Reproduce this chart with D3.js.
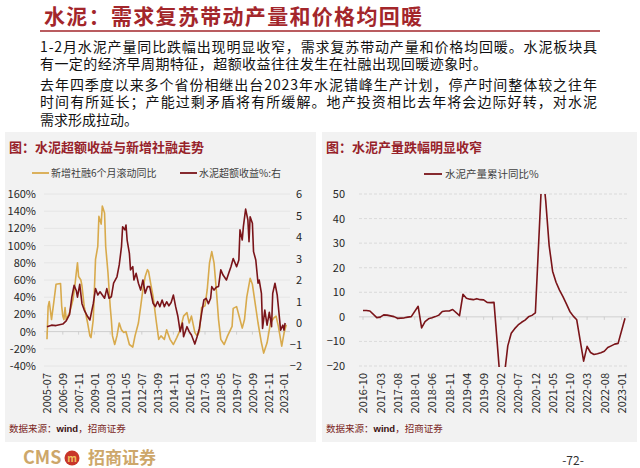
<!DOCTYPE html>
<html>
<head>
<meta charset="utf-8">
<script src="https://cdn.jsdelivr.net/npm/d3@7"></script>
<style>
  body { margin: 0; background: #fff; }
  svg { display: block; }
  text { font-family: "Noto Sans CJK SC", "Noto Sans", sans-serif; }
</style>
</head>
<body>
<script>
// 新增社融6个月滚动同比 (%), left axis
var sfDates = ['2005-07','2005-08','2005-09','2005-11','2006-01','2006-03','2006-07','2006-08','2006-09','2006-10','2006-11','2006-12',
  '2007-03','2007-06','2007-08','2007-09','2007-10','2007-11','2008-01','2008-02','2008-04','2008-07','2008-09','2008-10','2008-12',
  '2009-01','2009-02','2009-04','2009-05','2009-07','2009-08','2009-10','2009-11','2010-01','2010-03','2010-04','2010-05','2010-07','2010-09','2010-11',
  '2011-01','2011-03','2011-05','2011-08','2011-11','2012-01','2012-04','2012-06','2012-08','2012-10','2012-12',
  '2013-01','2013-03','2013-05','2013-08','2013-10','2013-12','2014-03','2014-05','2014-08','2014-11',
  '2015-02','2015-05','2015-08','2015-11','2016-01','2016-03','2016-06','2016-08','2016-10','2016-12',
  '2017-03','2017-05','2017-07','2017-09','2017-11','2018-01','2018-03','2018-05','2018-08','2018-11',
  '2019-03','2019-04','2019-07','2019-10','2019-12','2020-02','2020-04','2020-07','2020-09','2020-11',
  '2021-02','2021-05','2021-07','2021-10','2022-01','2022-04','2022-06','2022-08','2022-11','2023-01','2023-03'];
var sfValues = [-9,29,35,14,34,55,56,30,18,14,28,14,
  22,37,57,69,80,64,60,53,29,10,-5,-7,14,
  49,84,99,134,125,146,138,99,69,29,14,-5,-15,-5,10,
  2,-1,0,-15,-18,-5,10,29,49,64,72,
  70,55,41,10,-9,-5,-9,2,-9,-15,
  -7,2,18,22,10,18,-1,-5,0,28,
  30,49,80,93,80,49,14,-9,-15,-5,
  6,27,29,14,4,14,40,62,55,37,
  10,-13,-25,-13,10,16,18,6,-17,-2,8];

// 水泥超额收益 (right axis)
var exDates = ['2005-07','2005-11','2006-03','2006-06','2006-09','2006-12',
  '2007-03','2007-05','2007-07','2007-09','2007-10','2007-12','2008-02','2008-04','2008-07','2008-09','2008-12',
  '2009-02','2009-04','2009-06','2009-08','2009-10','2009-12','2010-02','2010-04','2010-06','2010-09','2010-11',
  '2011-01','2011-02','2011-04','2011-05','2011-06','2011-08','2011-09','2011-11','2011-12','2012-02','2012-04','2012-06','2012-08','2012-10','2012-12',
  '2013-02','2013-05','2013-07','2013-09','2013-11','2014-01','2014-03','2014-05','2014-07','2014-09','2014-11',
  '2015-01','2015-03','2015-05','2015-07','2015-08','2015-11','2016-01','2016-03','2016-06','2016-08','2016-10','2016-12',
  '2017-02','2017-04','2017-06','2017-08','2017-09','2017-11','2018-01','2018-03','2018-05','2018-07','2018-10','2018-12',
  '2019-02','2019-04','2019-07','2019-09','2019-10','2019-12','2020-01','2020-03','2020-05','2020-06','2020-07','2020-09','2020-10','2020-12',
  '2021-02','2021-03','2021-05','2021-06','2021-08','2021-10','2021-12','2022-02','2022-03','2022-05','2022-07','2022-08','2022-10','2022-12','2023-01','2023-02'];
var exValues = [-0.17,-0.1,-0.12,-0.08,-0.05,0.1,
  0.4,1.2,1.75,1.5,1.2,1.8,0.9,0.6,0.3,0.14,0.9,
  1.6,1.3,1.45,1.3,1.15,1.6,1.15,1.22,1.85,2.15,2.7,
  3.55,4.48,4.33,4.56,3.86,3.24,2.47,2.62,2.0,2.31,1.85,1.53,2.0,1.38,1.69,
  1.69,0.92,0.76,1.0,0.76,1.07,0.76,0.99,0.8,0.95,1.3,
  0.76,0.3,-0.4,0.0,-0.64,-0.17,-0.4,-0.56,-0.98,-0.64,-0.25,0.45,
  1.07,1.15,0.9,1.15,1.69,1.53,1.66,1.7,2.47,2.23,2.0,2.31,
  2.62,3.0,2.62,2.93,4.33,3.86,4.48,5.3,4.79,3.78,4.94,4.64,3.32,2.93,
  1.85,2.0,1.38,-0.25,0.6,-0.1,0.5,-0.17,1.38,1.85,1.3,0.76,-0.33,-0.1,-0.33,0.0];

// 水泥产量累计同比% (no January figures)
var prodDates = ['2016-10','2016-11','2016-12',
  '2017-02','2017-03','2017-04','2017-05','2017-06','2017-07','2017-08','2017-09','2017-10','2017-11','2017-12',
  '2018-02','2018-03','2018-04','2018-05','2018-06','2018-07','2018-08','2018-09','2018-10','2018-11','2018-12',
  '2019-02','2019-03','2019-04','2019-05','2019-06','2019-07','2019-08','2019-09','2019-10','2019-11','2019-12',
  '2020-02','2020-03','2020-04','2020-05','2020-06','2020-07','2020-08','2020-09','2020-10','2020-11','2020-12',
  '2021-02','2021-03','2021-04','2021-05','2021-06','2021-07','2021-08','2021-09','2021-10','2021-11','2021-12',
  '2022-02','2022-03','2022-04','2022-05','2022-06','2022-07','2022-08','2022-09','2022-10','2022-11','2022-12',
  '2023-02'];
var prodValues = [2.6,2.6,2.4,
  -0.3,-0.1,0.8,0.7,0.4,0.1,-0.6,-0.5,-0.4,-0.1,0.1,
  4.3,-4.5,-1.9,-0.8,-0.4,0.1,0.7,2.2,2.4,2.4,3.0,
  0.5,9.2,7.6,7.2,7.0,7.4,7.0,6.9,5.9,5.8,5.9,
  -29.5,-23.9,-11.8,-6.7,-4.8,-3.3,-2.2,-1.3,0.0,0.6,1.6,
  61.1,47.3,29.0,18.6,14.1,10.9,8.2,5.3,2.2,0.3,-1.2,
  -18.0,-12.0,-14.5,-15.3,-15.0,-14.6,-14.0,-12.5,-11.8,-11.1,-10.8,
  -0.6];

var leftXLabels = ['2005-07','2006-09','2007-11','2009-01','2010-03','2011-05','2012-07','2013-09',
  '2014-11','2016-01','2017-03','2018-05','2019-07','2020-09','2021-11','2023-01'];
var rightXLabels = ['2016-10','2017-03','2017-08','2018-01','2018-06','2018-11','2019-04','2019-09',
  '2020-02','2020-07','2020-12','2021-05','2021-10','2022-03','2022-08','2023-01'];
var leftTicks = [-40,-20,0,20,40,60,80,100,120,140,160];
var rightTicks = [-2,-1,0,1,2,3,4,5,6];
var prodTicks = [-20,-10,0,10,20,30,40,50];

var RED = '#a3262b', MAROON = '#7a1419', GOLD = '#d8aa4c', TITLE = '#97222a';
var NUMFONT = '"Liberation Sans", Arial, sans-serif';

var mi = function(s) { return +s.slice(0, 4) * 12 + (+s.slice(5, 7)) - 1; };

var svg = d3.select('body').append('svg').attr('width', 640).attr('height', 468);

// ---- header ----
svg.append('text').attr('x', 44).attr('y', 17).attr('dy', '0.35em')
  .attr('font-size', 21).attr('font-weight', 'bold').attr('fill', RED)
  .attr('textLength', 378).attr('lengthAdjust', 'spacing')
  .text('水泥：需求复苏带动产量和价格均回暖');
svg.append('line').attr('x1', 40).attr('x2', 600).attr('y1', 31).attr('y2', 31)
  .attr('stroke', RED).attr('stroke-width', 1.5);

// text, y, justified width
var bodyLines = [
  ['1-2月水泥产量同比跌幅出现明显收窄，需求复苏带动产量和价格均回暖。水泥板块具', 47, 557],
  ['有一定的经济早周期特征，超额收益往往发生在社融出现回暖迹象时。', 64, 447],
  ['去年四季度以来多个省份相继出台2023年水泥错峰生产计划，停产时间整体较之往年', 85, 557],
  ['时间有所延长；产能过剩矛盾将有所缓解。地产投资相比去年将会边际好转，对水泥', 102, 557],
  ['需求形成拉动。', 120, 0]
];
bodyLines.forEach(function(b) {
  var t = svg.append('text').attr('x', 40).attr('y', b[1]).attr('dy', '0.35em')
    .attr('font-size', 14).attr('fill', '#111').text(b[0]);
  if (b[2]) t.attr('textLength', b[2]).attr('lengthAdjust', 'spacing');
});

// ---- panels ----
function panel(x0, w, title) {
  svg.append('rect').attr('x', x0).attr('y', 132).attr('width', w).attr('height', 310).attr('fill', '#f2f2f2');
  svg.append('text').attr('x', x0 + 4).attr('y', 147).attr('dy', '0.35em')
    .attr('font-size', 13).attr('font-weight', 'bold').attr('fill', TITLE).text(title);
  var s = svg.append('text').attr('x', x0 + 4).attr('y', 429).attr('dy', '0.35em')
    .attr('font-size', 9.5).attr('fill', '#7a1f22');
  s.append('tspan').text('数据来源：');
  s.append('tspan').attr('font-family', NUMFONT).attr('font-weight', 'bold').attr('fill', '#3a1010').text('wind');
  s.append('tspan').text('，招商证券');
}
panel(5, 311, '图：水泥超额收益与新增社融走势');
panel(322, 315, '图：水泥产量跌幅明显收窄');

function styleAxis(g) {
  g.select('.domain').remove();
  g.attr('font-family', NUMFONT).attr('font-size', 11);
  g.selectAll('text').attr('fill', '#262626');
}

// ---- left chart ----
var xL = d3.scaleLinear().domain([mi('2005-07'), mi('2023-01')]).range([47, 284]);
var yL = d3.scaleLinear().domain([-40, 160]).range([366, 194]);
var yR = d3.scaleLinear().domain([-2, 6]).range([366, 194]);

svg.append('g').selectAll('line').data(leftTicks).enter().append('line')
  .attr('x1', 44).attr('x2', 290)
  .attr('y1', function(d) { return yL(d); }).attr('y2', function(d) { return yL(d); })
  .attr('stroke', '#e2e2e2').attr('stroke-width', 0.8);

svg.append('g').attr('transform', 'translate(39,0)')
  .call(d3.axisLeft(yL).tickValues(leftTicks).tickFormat(function(d) { return d + '%'; }).tickSize(0).tickPadding(3))
  .call(styleAxis);
svg.append('g').attr('transform', 'translate(302,0)')
  .call(d3.axisLeft(yR).tickValues(rightTicks).tickSize(0).tickPadding(0))
  .call(styleAxis);

var gxL = svg.append('g').attr('transform', 'translate(0,366)')
  .call(d3.axisBottom(xL).tickValues(leftXLabels.map(mi)).tickSize(0)
    .tickFormat(function(d, i) { return leftXLabels[i]; }))
  .call(styleAxis);
gxL.selectAll('text').attr('transform', 'rotate(-90)').attr('text-anchor', 'end')
  .attr('x', -7).attr('y', 0).attr('dy', '0.35em');

// zero axis line
svg.append('line').attr('x1', 44).attr('x2', 290).attr('y1', yL(0)).attr('y2', yL(0))
  .attr('stroke', '#c8c8c8').attr('stroke-width', 0.8);
svg.append('g').selectAll('line').data(leftXLabels).enter().append('line')
  .attr('x1', function(d) { return xL(mi(d)); }).attr('x2', function(d) { return xL(mi(d)); })
  .attr('y1', yL(0)).attr('y2', yL(0) + 3).attr('stroke', '#c8c8c8').attr('stroke-width', 0.8);

var sfData = d3.zip(sfDates, sfValues);
var exData = d3.zip(exDates, exValues);

svg.append('path').datum(sfData)
  .attr('fill', 'none').attr('stroke', GOLD).attr('stroke-width', 1.6).attr('stroke-linejoin', 'round')
  .attr('d', d3.line().x(function(d) { return xL(mi(d[0])); }).y(function(d) { return yL(d[1]); }));
svg.append('path').datum(exData)
  .attr('fill', 'none').attr('stroke', MAROON).attr('stroke-width', 1.6).attr('stroke-linejoin', 'round')
  .attr('d', d3.line().x(function(d) { return xL(mi(d[0])); }).y(function(d) { return yR(d[1]); }));

// legend
var legL = [
  {x: 32, color: GOLD, label: '新增社融6个月滚动同比'},
  {x: 180, color: MAROON, label: '水泥超额收益%:右'}
];
legL.forEach(function(l) {
  svg.append('line').attr('x1', l.x).attr('x2', l.x + 17).attr('y1', 173).attr('y2', 173)
    .attr('stroke', l.color).attr('stroke-width', 1.8);
  svg.append('text').attr('x', l.x + 19).attr('y', 173).attr('dy', '0.35em')
    .attr('font-size', 10).attr('fill', '#404040').text(l.label);
});

// ---- right chart ----
var xP = d3.scaleLinear().domain([mi('2016-10'), mi('2023-02')]).range([363, 625]);
var yP = d3.scaleLinear().domain([-20, 50]).range([366, 194]);

svg.append('g').selectAll('line').data(prodTicks.filter(function(d) { return d !== 0; })).enter().append('line')
  .attr('x1', 359).attr('x2', 629)
  .attr('y1', function(d) { return yP(d); }).attr('y2', function(d) { return yP(d); })
  .attr('stroke', '#d4d4d4').attr('stroke-width', 0.8).attr('stroke-dasharray', '3,2');

svg.append('g').attr('transform', 'translate(348,0)')
  .call(d3.axisLeft(yP).tickValues(prodTicks).tickSize(0).tickPadding(3))
  .call(styleAxis);

var gxP = svg.append('g').attr('transform', 'translate(0,366)')
  .call(d3.axisBottom(xP).tickValues(rightXLabels.map(mi)).tickSize(0)
    .tickFormat(function(d, i) { return rightXLabels[i]; }))
  .call(styleAxis);
gxP.selectAll('text').attr('transform', 'rotate(-90)').attr('text-anchor', 'end')
  .attr('x', -7).attr('y', 0).attr('dy', '0.35em');

svg.append('line').attr('x1', 359).attr('x2', 629).attr('y1', yP(0)).attr('y2', yP(0))
  .attr('stroke', '#c8c8c8').attr('stroke-width', 0.8);
svg.append('g').selectAll('line').data(rightXLabels).enter().append('line')
  .attr('x1', function(d) { return xP(mi(d)); }).attr('x2', function(d) { return xP(mi(d)); })
  .attr('y1', yP(0)).attr('y2', yP(0) + 3).attr('stroke', '#c8c8c8').attr('stroke-width', 0.8);

svg.append('defs').append('clipPath').attr('id', 'clipP').append('rect')
  .attr('x', 355).attr('y', yP(50)).attr('width', 280).attr('height', yP(-20) - yP(50) + 1);

svg.append('path').datum(d3.zip(prodDates, prodValues))
  .attr('clip-path', 'url(#clipP)')
  .attr('fill', 'none').attr('stroke', MAROON).attr('stroke-width', 1.6).attr('stroke-linejoin', 'round')
  .attr('d', d3.line().x(function(d) { return xP(mi(d[0])); }).y(function(d) { return yP(d[1]); }));

svg.append('line').attr('x1', 424).attr('x2', 442).attr('y1', 174).attr('y2', 174)
  .attr('stroke', MAROON).attr('stroke-width', 1.8);
svg.append('text').attr('x', 445).attr('y', 174).attr('dy', '0.35em')
  .attr('font-size', 10.5).attr('fill', '#404040').text('水泥产量累计同比%');

// ---- footer ----
svg.append('text').attr('x', 23).attr('y', 458).attr('dy', '0.35em').attr('font-family', '"Open Sans", sans-serif')
  .attr('font-size', 18).attr('font-weight', 'bold').attr('fill', '#cda76a').text('CMS');
svg.append('circle').attr('cx', 72).attr('cy', 458).attr('r', 7.5).attr('fill', '#c8352a');
svg.append('text').attr('x', 72).attr('y', 458).attr('dy', '0.35em').attr('text-anchor', 'middle')
  .attr('font-family', NUMFONT).attr('font-size', 10).attr('font-weight', 'bold').attr('fill', '#f0c060').text('m');
svg.append('text').attr('x', 88).attr('y', 458).attr('dy', '0.35em')
  .attr('font-size', 17).attr('font-weight', 'bold').attr('fill', '#cda76a').text('招商证券');
svg.append('text').attr('x', 573).attr('y', 461).attr('dy', '0.35em').attr('text-anchor', 'middle')
  .attr('font-family', NUMFONT).attr('font-size', 12).attr('fill', '#333').text('-72-');
</script>
</body>
</html>
